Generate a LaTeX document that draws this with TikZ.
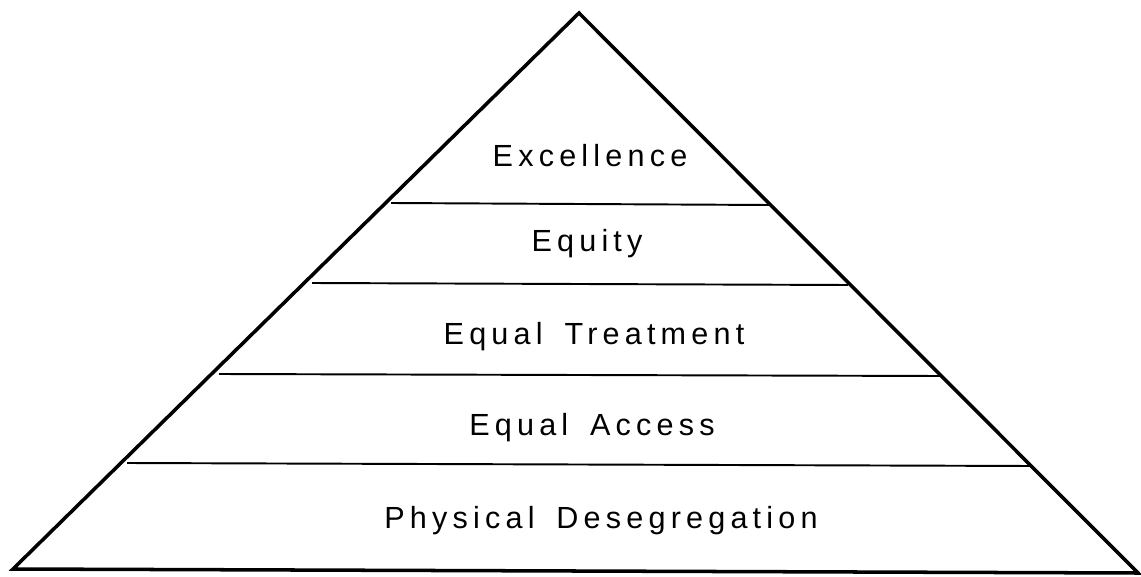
\documentclass[tikz,border=0pt]{standalone}
\usepackage{fontspec}
\usepackage{tikz}
\usetikzlibrary{positioning, calc}
\newfontfamily\tierfont[LetterSpace=17, WordSpace=1.6]{Liberation Sans}

\begin{document}
\begin{tikzpicture}[
    x=0.02cm, y=-0.02cm,
    outline/.style={line width=2pt, line join=miter, black},
    divider/.style={line width=1.1pt, black},
    tier/.style={font=\fontsize{17.4}{20}\tierfont, text=black, inner sep=0pt}
  ]
    \useasboundingbox (0,0) rectangle (1141,577);

    % Corners of the pyramid
    \coordinate (apex) at (579,13);
    \coordinate (baseL) at (13,569);
    \coordinate (baseR) at (1138,573);
    \draw[outline] (baseL) -- (apex) -- (baseR) -- cycle;

    % Dividing lines between the tiers
    \draw[divider] (391,203) -- (769,205);
    \draw[divider] (312,283) -- (848,285);
    \draw[divider] (219,374) -- (941,376);
    \draw[divider] (127,463) -- (1032,466);

    % Tier labels
    \node[tier] (excellence) at (590,156) {Excellence};
    \node[tier] (equity) at (587,244) {Equity};
    \node[tier] (treatment) at (594,337) {Equal Treatment};
    \node[tier] (access) at (592,428) {Equal Access};
    \node[tier] (desegregation) at (601,521) {Physical Desegregation};
  \end{tikzpicture}
\end{document}
